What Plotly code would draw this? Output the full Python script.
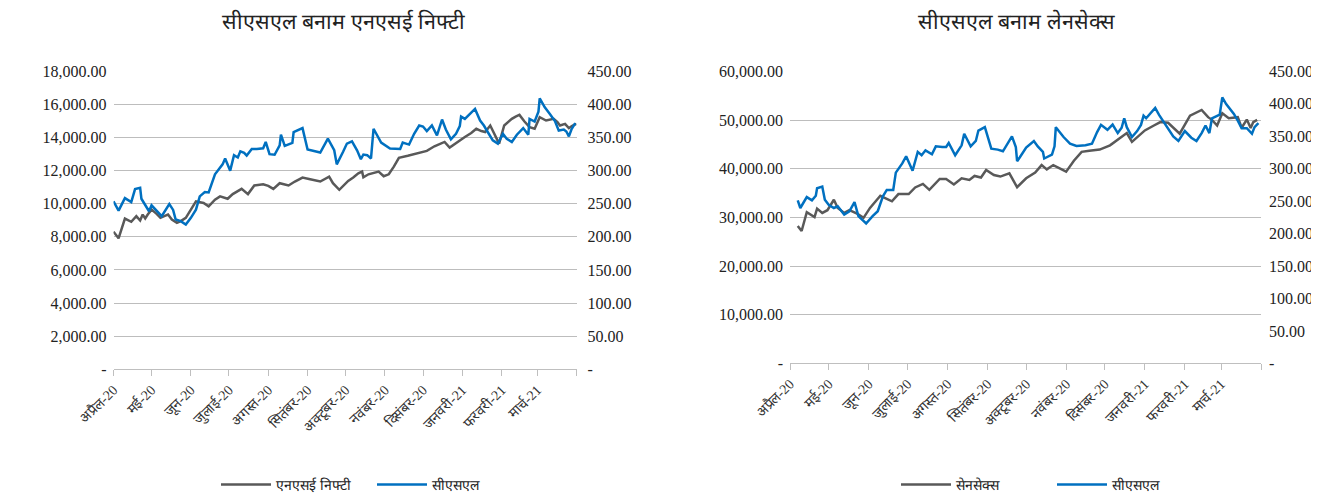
import pandas as pd
import plotly.graph_objects as go

START = pd.Timestamp("2020-04-01")

# ---------------- Left chart: CSL vs NSE Nifty ----------------
nifty_days = [0, 4, 9, 14, 18, 21, 23, 25, 27, 30, 34, 37, 40, 43, 46, 50, 53, 57, 61, 65,
              71, 75, 80, 84, 90, 94, 101, 106, 111, 118, 122, 126, 131, 138, 143, 149, 155, 163, 170, 173,
              178, 182, 185, 189, 193, 196, 197, 201, 205, 209, 213, 217, 221, 225, 232, 240, 247, 253, 261, 265,
              271, 277, 282, 286, 290, 293, 297, 301, 304, 308, 314, 317, 320, 324, 328, 332, 336, 341, 347, 350,
              352, 356, 359, 362, 365]
nifty_vals = [8312, 7912, 9108, 8910, 9251, 8988, 9347, 9108, 9347, 9646, 9389, 9149, 9251, 9347, 9048, 8850, 8952, 9149, 9646, 10148,
              10046, 9849, 10244, 10447, 10304, 10585, 10902, 10585, 11105, 11183, 11081, 10902, 11242, 11105, 11344, 11583, 11482, 11344, 11643, 11242,
              10842, 11141, 11380, 11583, 11840, 11942, 11601, 11781, 11858, 11942, 11661, 11781, 12241, 12779, 12899, 13036, 13198, 13473, 13736, 13395,
              13736, 14035, 14274, 14531, 14394, 14334, 14729, 14131, 13634, 14729, 15129, 15267, 15369, 14968, 14633, 14531, 15231, 15028, 15129, 14932,
              14729, 14830, 14573, 14729, 14830]

csl1_days = [0, 4, 9, 14, 17, 21, 22, 25, 28, 30, 34, 38, 44, 47, 49, 53, 57, 61, 65, 68,
             72, 75, 80, 84, 86, 88, 92, 95, 98, 100, 103, 105, 109, 113, 118, 120, 123, 127, 131, 132,
             135, 141, 142, 149, 153, 163, 169, 174, 176, 181, 184, 188, 192, 195, 197, 200, 203, 205, 208, 211,
             218, 226, 228, 233, 237, 241, 244, 247, 251, 255, 259, 262, 266, 270, 273, 274, 277, 285, 289, 292,
             295, 299, 303, 307, 310, 314, 318, 323, 327, 328, 332, 335, 336, 340, 344, 348, 351, 355, 357, 359,
             361, 364]
csl1_vals = [253.7, 239.6, 258.6, 252.7, 272.1, 274.0, 257.6, 248.6, 238.7, 247.7, 238.7, 231.3, 249.7, 240.7, 226.2, 223.8, 218.7, 228.7, 241.1, 261.2,
             267.6, 267.2, 294.5, 303.5, 309.5, 318.4, 300.0, 323.4, 319.9, 329.3, 327.0, 322.9, 332.9, 332.9, 333.8, 343.4, 324.9, 324.0, 338.3, 354.3,
             337.4, 341.9, 358.4, 364.3, 331.9, 327.4, 348.3, 330.8, 309.5, 328.5, 340.9, 344.3, 330.8, 317.4, 324.4, 323.4, 318.4, 363.3, 353.3, 342.4,
             333.4, 332.9, 342.4, 339.4, 355.8, 368.2, 366.7, 359.8, 368.2, 353.3, 377.2, 362.2, 347.3, 355.8, 367.3, 381.7, 378.2, 393.2, 375.7, 368.2,
             358.4, 345.8, 340.9, 355.8, 348.3, 343.4, 354.3, 364.3, 354.3, 378.2, 374.2, 389.1, 409.2, 395.7, 385.7, 374.8, 360.7, 362.2, 359.2, 351.8,
             362.2, 371.8]

# ---------------- Right chart: CSL vs Sensex ----------------
sensex_days = [6, 9, 13, 19, 21, 25, 29, 34, 37, 42, 46, 52, 57, 62, 70, 74, 79, 84, 92, 97,
               103, 108, 116, 121, 127, 133, 139, 143, 148, 152, 158, 163, 170, 176, 183, 190, 195, 199, 204, 209,
               214, 220, 226, 232, 240, 248, 256, 261, 265, 269, 275, 282, 287, 293, 302, 310, 319, 324, 327, 331,
               335, 340, 344, 347, 350, 354, 357, 359, 362]
sensex_vals = [28211, 27195, 31059, 30042, 31791, 30917, 31466, 33622, 31934, 30917, 31466, 30774, 29900, 31934, 34436, 33968, 33297, 34781, 34781, 36144,
               36876, 35656, 37893, 37893, 36754, 38036, 37690, 38504, 38178, 39724, 38707, 38382, 39053, 36205, 38036, 39195, 40741, 39866, 40741, 40070,
               39399, 41636, 43467, 43670, 43934, 44809, 46314, 47331, 45501, 46375, 47860, 48877, 49569, 49426, 47189, 50911, 52070, 50586, 50036, 48877,
               51399, 50382, 50443, 50586, 48409, 50097, 48348, 49569, 50036]

csl2_days = [6, 8, 13, 17, 20, 21, 25, 27, 30, 34, 37, 42, 46, 50, 53, 56, 59, 64, 68, 72,
             75, 80, 82, 87, 90, 95, 99, 102, 105, 110, 113, 118, 121, 123, 128, 133, 135, 140, 144, 146,
             151, 156, 161, 165, 172, 175, 176, 178, 183, 189, 192, 196, 197, 203, 205, 206, 212, 217, 222, 229,
             234, 238, 241, 246, 250, 254, 257, 259, 261, 265, 269, 272, 274, 276, 279, 283, 286, 289, 293, 297,
             301, 306, 311, 315, 319, 322, 325, 327, 333, 335, 338, 344, 347, 350, 354, 358, 360, 363]
csl2_vals = [251.2, 239.4, 256.2, 251.2, 258.2, 269.9, 272.5, 252.1, 244.5, 239.4, 242.0, 229.2, 234.4, 248.6, 226.8, 221.6, 215.5, 226.8, 234.4, 257.3,
             267.3, 267.3, 293.9, 308.1, 319.2, 296.9, 325.9, 320.7, 328.3, 322.2, 334.4, 333.5, 333.5, 339.6, 320.7, 336.0, 353.8, 334.4, 342.7, 358.8,
             364.0, 330.9, 329.4, 326.8, 349.7, 333.5, 311.6, 317.2, 332.5, 342.7, 334.4, 325.9, 315.7, 321.8, 334.4, 364.0, 348.8, 338.6, 335.0, 336.0,
             338.6, 356.4, 367.5, 359.9, 368.0, 354.9, 363.0, 377.7, 364.0, 348.8, 357.9, 367.5, 381.7, 377.7, 384.3, 393.5, 382.8, 374.1, 361.4, 349.7,
             342.7, 357.9, 347.7, 342.7, 354.9, 366.5, 354.9, 377.7, 383.2, 409.8, 399.6, 384.3, 374.1, 362.5, 362.5, 353.8, 364.0, 370.1]

month_ticks = ["2020-04-01", "2020-05-01", "2020-06-01", "2020-07-01", "2020-08-01", "2020-09-01",
               "2020-10-01", "2020-11-01", "2020-12-01", "2021-01-01", "2021-02-01", "2021-03-01", "2021-04-01"]
month_labels = ["अप्रैल-20", "मई-20", "जून-20", "जुलाई-20", "अगस्त-20", "सितंबर-20",
                "अक्टूबर-20", "नवंबर-20", "दिसंबर-20", "जनवरी-21", "फरवरी-21", "मार्च-21", ""]

title_left = "सीएसएल बनाम एनएसई निफ्टी"
title_right = "सीएसएल बनाम लेनसेक्स"
name_nifty = "एनएसई निफ्टी"
name_sensex = "सेनसेक्स"
name_csl = "सीएसएल"

nifty_ticks = list(range(0, 18001, 2000))
sensex_ticks = list(range(0, 60001, 10000))
csl_ticks = list(range(0, 451, 50))


def to_dates(days):
    return [START + pd.Timedelta(days=d) for d in days]


def fmt(vals):
    return ["-" if v == 0 else f"{v:,.2f}" for v in vals]


GRAY = "#595959"
BLUE = "#0070C0"
GRID = "#bdbdbd"
FONT = "Liberation Serif, Times New Roman, serif"
PAGE_W, PAGE_H = 1319, 501
OFF = 8  # default page body margin
W, H = PAGE_W - OFF, PAGE_H - OFF

fig = go.Figure()
fig.add_trace(go.Scatter(x=to_dates(nifty_days), y=nifty_vals, name=name_nifty, mode="lines",
                         line=dict(color=GRAY, width=2.5), xaxis="x", yaxis="y", legend="legend"))
fig.add_trace(go.Scatter(x=to_dates(csl1_days), y=csl1_vals, name=name_csl, mode="lines",
                         line=dict(color=BLUE, width=2.5), xaxis="x", yaxis="y2", legend="legend"))
fig.add_trace(go.Scatter(x=to_dates(sensex_days), y=sensex_vals, name=name_sensex, mode="lines",
                         line=dict(color=GRAY, width=2.5), xaxis="x2", yaxis="y3", legend="legend2"))
fig.add_trace(go.Scatter(x=to_dates(csl2_days), y=csl2_vals, name=name_csl, mode="lines",
                         line=dict(color=BLUE, width=2.5), xaxis="x2", yaxis="y4", legend="legend2"))


def px_x(p):
    return (p - OFF) / W


def px_y(p):
    return 1 - (p - OFF) / H


xcommon = dict(type="date", range=[month_ticks[0], month_ticks[-1]], tickmode="array",
               tickvals=month_ticks, ticktext=month_labels, tickangle=-45, automargin=False,
               showline=True, linecolor="#bfbfbf", linewidth=1, ticks="outside", ticklen=6,
               tickcolor="#bfbfbf", showgrid=False, zeroline=False,
               tickfont=dict(family=FONT, size=14, color="#333333"))
ycommon = dict(showline=False, zeroline=False, ticks="", automargin=False,
               tickfont=dict(family=FONT, size=16, color="#222222"))
legcommon = dict(orientation="h", xanchor="left", yanchor="middle", itemwidth=50,
                 font=dict(family=FONT, size=14, color="#222222"), entrywidth=91,
                 entrywidthmode="pixels", bgcolor="rgba(0,0,0,0)")

fig.update_layout(
    width=W, height=H, autosize=False,
    margin=dict(l=0, r=0, t=0, b=0, pad=0),
    paper_bgcolor="white", plot_bgcolor="white",
    font=dict(family=FONT, color="#222222"),
    xaxis=dict(domain=[px_x(113.5), px_x(576.5)], anchor="y", **xcommon),
    yaxis=dict(domain=[px_y(373), px_y(72)], anchor="x", range=[0, 18000], tickmode="array",
               tickvals=nifty_ticks, ticktext=fmt(nifty_ticks), showgrid=True, gridcolor=GRID,
               gridwidth=1, ticklabelstandoff=6, **ycommon),
    yaxis2=dict(overlaying="y", side="right", anchor="x", range=[0, 450], tickmode="array",
                tickvals=csl_ticks, ticktext=fmt(csl_ticks), showgrid=False, ticklabelstandoff=10, **ycommon),
    xaxis2=dict(domain=[px_x(790), px_x(1261)], anchor="y3", **xcommon),
    yaxis3=dict(domain=[px_y(367), px_y(72)], anchor="x2", range=[0, 60000], tickmode="array",
                tickvals=sensex_ticks, ticktext=fmt(sensex_ticks), showgrid=True, gridcolor=GRID,
                gridwidth=1, ticklabelstandoff=6, **ycommon),
    yaxis4=dict(overlaying="y3", side="right", anchor="x2", range=[0, 450], tickmode="array",
                tickvals=csl_ticks, ticktext=fmt(csl_ticks), showgrid=False, ticklabelstandoff=7, **ycommon),
    legend=dict(x=px_x(216), y=px_y(490), **legcommon),
    legend2=dict(x=px_x(896), y=px_y(490), **legcommon),
    showlegend=True,
    annotations=[
        dict(text=title_left, x=px_x(343), y=px_y(22), xref="paper", yref="paper", showarrow=False,
             xanchor="center", yanchor="middle", font=dict(family=FONT, size=21.5, color="#222222")),
        dict(text=title_right, x=px_x(1016), y=px_y(22), xref="paper", yref="paper", showarrow=False,
             xanchor="center", yanchor="middle", font=dict(family=FONT, size=21.5, color="#222222")),
    ],
)

fig.write_html("out.html")
